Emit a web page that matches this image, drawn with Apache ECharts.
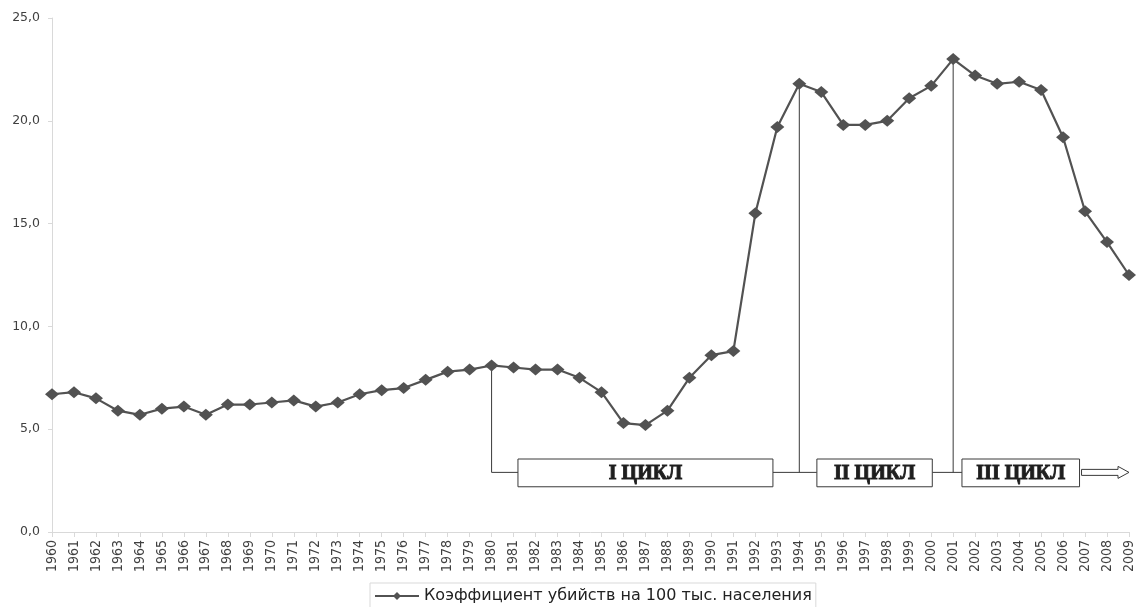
<!DOCTYPE html>
<html>
<head>
<meta charset="utf-8">
<script src="https://cdn.jsdelivr.net/npm/echarts@6/dist/echarts.min.js"></script>
<style>
html,body{margin:0;padding:0;background:#fff;}
#chart{width:1142px;height:607px;}
</style>
</head>
<body>
<div id="chart"></div>
<script>
const years = [1960,1961,1962,1963,1964,1965,1966,1967,1968,1969,1970,1971,1972,1973,1974,1975,1976,1977,1978,1979,1980,1981,1982,1983,1984,1985,1986,1987,1988,1989,1990,1991,1992,1993,1994,1995,1996,1997,1998,1999,2000,2001,2002,2003,2004,2005,2006,2007,2008,2009];
const homicideRate = [6.7,6.8,6.5,5.9,5.7,6.0,6.1,5.7,6.2,6.2,6.3,6.4,6.1,6.3,6.7,6.9,7.0,7.4,7.8,7.9,8.1,8.0,7.9,7.9,7.5,6.8,5.3,5.2,5.9,7.5,8.6,8.8,15.5,19.7,21.8,21.4,19.8,19.8,20.0,21.1,21.7,23.0,22.2,21.8,21.9,21.5,19.2,15.6,14.1,12.5];
const seriesName = 'Коэффициент убийств на 100 тыс. населения';
const yTicks = [0,5,10,15,20,25];

// cycle annotations (in data units)
const cycleNames = ['I ЦИКЛ','II ЦИКЛ','III ЦИКЛ'];
const cycleStartYears = [1980,1994,2001];
const cycleBoxFrom = [1981.2,1994.8,2001.4];
const cycleBoxTo = [1992.8,2000.05,2006.75];
const cycleLevel = 2.9;
const cycleBoxLow = 2.2;
const cycleBoxHigh = 3.55;
const arrowEnd = 2009;

const chart = echarts.init(document.getElementById('chart'));
const lineData = years.map((y,i)=>[y, homicideRate[i]]);
const cycleData = cycleNames.map((n,i)=>[cycleStartYears[i], i]);

function renderCycle(params, api){
  const i = api.value(1);
  const sy = cycleStartYears[i];
  const peak = homicideRate[years.indexOf(sy)];
  const pTop = api.coord([sy, peak]);
  const pLev = api.coord([sy, cycleLevel]);
  const hStartX = i === 0 ? sy : cycleBoxTo[i-1];
  const h0 = api.coord([hStartX, cycleLevel]);
  const h1 = api.coord([cycleBoxFrom[i], cycleLevel]);
  const b0 = api.coord([cycleBoxFrom[i], cycleBoxHigh]);
  const b1 = api.coord([cycleBoxTo[i], cycleBoxLow]);
  const lineStyle = {stroke:'#3a3a3a', lineWidth:1};
  const children = [
    {type:'line', shape:{x1:pTop[0],y1:pTop[1],x2:pLev[0],y2:pLev[1]}, style:lineStyle, z2:1},
    {type:'line', shape:{x1:h0[0],y1:h0[1],x2:h1[0],y2:h1[1]}, style:lineStyle, z2:1},
    {type:'rect', shape:{x:b0[0], y:b0[1], width:b1[0]-b0[0], height:b1[1]-b0[1]},
      style:{fill:'#fff', stroke:'#3a3a3a', lineWidth:1}, z2:2},
    {type:'text', style:{x:(b0[0]+b1[0])/2, y:(b0[1]+b1[1])/2+1, text:cycleNames[i],
      fill:'#1e1e1e', stroke:'#1e1e1e', lineWidth:0.9,
      font:'bold 20px "Liberation Serif", serif',
      align:'center', verticalAlign:'middle'}, z2:3}
  ];
  if (i === cycleNames.length - 1) {
    const a0 = api.coord([cycleBoxTo[i], cycleLevel]);
    const a1 = api.coord([arrowEnd, cycleLevel]);
    const x0 = a0[0]+2, x1 = a1[0], cy = a0[1];
    const hb = x1 - 11;
    children.push({type:'polygon', shape:{points:[
      [x0,cy-3],[hb,cy-3],[hb,cy-6],[x1,cy],[hb,cy+6],[hb,cy+3],[x0,cy+3]
    ]}, style:{fill:'#fff', stroke:'#3a3a3a', lineWidth:1}, z2:2});
  }
  return {type:'group', children};
}

chart.setOption({
  animation:false,
  backgroundColor:'#fff',
  grid:{left:52, right:13, top:18, bottom:75, containLabel:false},
  legend:{
    bottom:-4, left:370,
    data:[seriesName],
    itemWidth:44, itemHeight:10, itemGap:6,
    borderColor:'#d9d9d9', borderWidth:1, padding:[5,4,7,4],
    textStyle:{fontFamily:'"DejaVu Sans", Arial, sans-serif', fontSize:16, color:'#222'}
  },
  xAxis:{
    type:'value', min:1960, max:2009, interval:1,
    axisLine:{lineStyle:{color:'#d9d9d9'}},
    axisTick:{length:5, lineStyle:{color:'#d9d9d9'}},
    splitLine:{show:false},
    axisLabel:{rotate:90, fontSize:14, color:'#404040', margin:8,
      fontFamily:'"Liberation Sans Narrow", "DejaVu Sans Condensed", Arial, sans-serif',
      formatter:v=>String(v)}
  },
  yAxis:{
    type:'value', min:yTicks[0], max:yTicks[yTicks.length-1], interval:yTicks[1]-yTicks[0],
    axisLine:{show:true, lineStyle:{color:'#d9d9d9'}},
    axisTick:{show:true, length:4, lineStyle:{color:'#d9d9d9'}},
    splitLine:{show:false},
    axisLabel:{fontSize:12.5, color:'#404040', margin:12,
      fontFamily:'"DejaVu Sans", Arial, sans-serif',
      formatter:v=>v.toFixed(1).replace('.',',')}
  },
  series:[
    {
      type:'custom', name:'cycles', renderItem:renderCycle, data:cycleData,
      z:1, silent:true, clip:false
    },
    {
      type:'line', name:seriesName, data:lineData,
      symbol:'diamond', symbolSize:[14,12],
      lineStyle:{color:'#525252', width:2.2},
      itemStyle:{color:'#525252'},
      z:5
    }
  ]
});
</script>
</body>
</html>
